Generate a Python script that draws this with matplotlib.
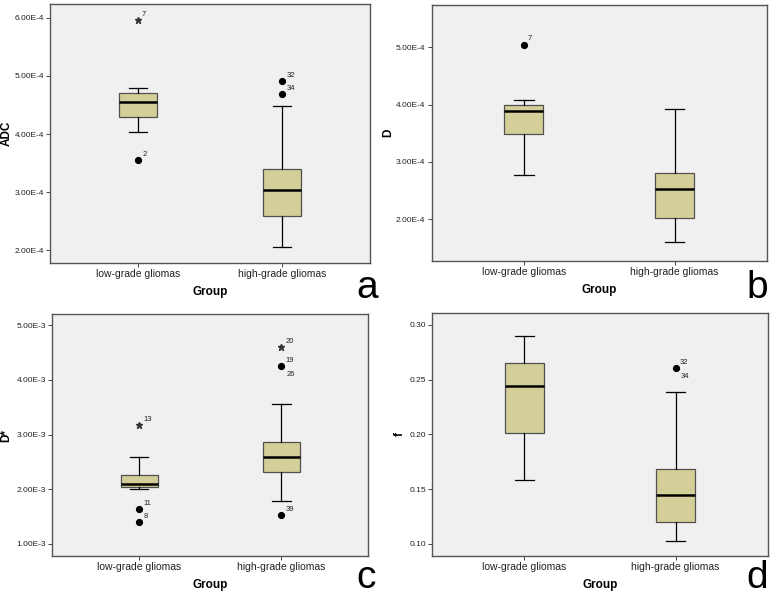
import numpy as np
import matplotlib
matplotlib.use('Agg')
import matplotlib.pyplot as plt

plt.rcParams['font.family'] = ['Liberation Sans', 'DejaVu Sans']

groups = ['low-grade gliomas', 'high-grade gliomas']
box_col = '#d4cf98'

# five-number summaries: [low-grade, high-grade]
adc_lo = [4.03e-4, 2.05e-4]
adc_q1 = [4.30e-4, 2.59e-4]
adc_med = [4.55e-4, 3.03e-4]
adc_q3 = [4.70e-4, 3.39e-4]
adc_hi = [4.80e-4, 4.48e-4]
adc_out = [[(3.55e-4, '2', 'o'), (5.97e-4, '7', '*')],
           [(4.92e-4, '32', 'o'), (4.69e-4, '34', 'o')]]

d_lo = [2.78e-4, 1.60e-4]
d_q1 = [3.49e-4, 2.02e-4]
d_med = [3.895e-4, 2.53e-4]
d_q3 = [4.00e-4, 2.80e-4]
d_hi = [4.09e-4, 3.93e-4]
d_out = [[(5.05e-4, '7', 'o')], []]

ds_lo = [2.01e-3, 1.79e-3]
ds_q1 = [2.04e-3, 2.32e-3]
ds_med = [2.10e-3, 2.59e-3]
ds_q3 = [2.26e-3, 2.86e-3]
ds_hi = [2.59e-3, 3.56e-3]
ds_out = [[(3.18e-3, '13', '*'), (1.63e-3, '11', 'o'), (1.40e-3, '8', 'o')],
          [(4.61e-3, '20', '*'), (4.25e-3, '19', 'o'), (4.25e-3, '26', 'o'),
           (1.52e-3, '39', 'o')]]

f_lo = [0.158, 0.1025]
f_q1 = [0.2015, 0.120]
f_med = [0.2445, 0.145]
f_q3 = [0.265, 0.168]
f_hi = [0.290, 0.2387]
f_out = [[], [(0.2606, '32', 'o'), (0.2606, '34', 'o')]]

panels = [
    dict(name='ADC', lo=adc_lo, q1=adc_q1, med=adc_med, q3=adc_q3, hi=adc_hi, out=adc_out,
         ticks=[2e-4, 3e-4, 4e-4, 5e-4, 6e-4], fmt='{:.2E}', ylim=(1.78e-4, 6.24e-4),
         pos=[0.0645, 0.558, 0.4129, 0.4353], letter='a', lab_x=-0.118, let_xy=(378, 298)),
    dict(name='D', lo=d_lo, q1=d_q1, med=d_med, q3=d_q3, hi=d_hi, out=d_out,
         ticks=[2e-4, 3e-4, 4e-4, 5e-4], fmt='{:.2E}', ylim=(1.27e-4, 5.74e-4),
         pos=[0.557, 0.5613, 0.4323, 0.4303], letter='b', lab_x=-0.112, let_xy=(768, 298)),
    dict(name='D*', lo=ds_lo, q1=ds_q1, med=ds_med, q3=ds_q3, hi=ds_hi, out=ds_out,
         ticks=[1e-3, 2e-3, 3e-3, 4e-3, 5e-3], fmt='{:.2E}', ylim=(0.775e-3, 5.207e-3),
         pos=[0.0675, 0.0655, 0.4077, 0.4067], letter='c', lab_x=-0.128, let_xy=(376, 588)),
    dict(name='f', lo=f_lo, q1=f_q1, med=f_med, q3=f_q3, hi=f_hi, out=f_out,
         ticks=[0.10, 0.15, 0.20, 0.25, 0.30], fmt='{:.2f}', ylim=(0.0888, 0.3112),
         pos=[0.5578, 0.0655, 0.4328, 0.4089], letter='d', lab_x=-0.08, let_xy=(768, 588)),
]


def sci(v, fmt):
    s = fmt.format(v)
    if 'E' in s:
        m, e = s.split('E')
        s = m + 'E' + str(int(e))
    return s


fig = plt.figure(figsize=(7.75, 5.95), dpi=100)

for p in panels:
    ax = fig.add_axes(p['pos'])
    ax.set_facecolor('#f0f0f0')
    stats = []
    for i in range(2):
        stats.append(dict(whislo=p['lo'][i], q1=p['q1'][i], med=p['med'][i],
                          q3=p['q3'][i], whishi=p['hi'][i], fliers=[]))
    ax.bxp(stats, positions=[1, 2], widths=0.26, capwidths=0.13, patch_artist=True,
           showfliers=False,
           boxprops=dict(facecolor=box_col, edgecolor='#505050', linewidth=0.9),
           medianprops=dict(color='black', linewidth=1.8),
           whiskerprops=dict(color='black', linewidth=0.9),
           capprops=dict(color='black', linewidth=0.9))
    for i in range(2):
        seen = {}
        for val, lab, mk in p['out'][i]:
            key = round(val, 8)
            if key in seen:
                # second label of a shared point goes below-right
                ax.annotate(lab, (i + 1, val), xytext=(4, -6), textcoords='offset points',
                            fontsize=5.5, color='#222222', va='center')
                continue
            seen[key] = 1
            if mk == '*':
                ax.plot(i + 1, val, marker='*', color='#333333', markersize=5,
                        linestyle='none')
            else:
                ax.plot(i + 1, val, marker='o', color='black', markersize=4.2,
                        linestyle='none')
            ax.annotate(lab, (i + 1, val), xytext=(3, 4), textcoords='offset points',
                        fontsize=5.5, color='#222222', va='center')
    ax.set_xlim(0.39, 2.61)
    ax.set_ylim(*p['ylim'])
    ax.set_xticks([1, 2])
    ax.set_xticklabels(groups, fontsize=7.5, color='#222222')
    ax.set_yticks(p['ticks'])
    ax.set_yticklabels([sci(t, p['fmt']) for t in p['ticks']], fontsize=6, color='#222222')
    ax.tick_params(direction='out', length=3, width=0.7, color='#444444', pad=1.5)
    for s in ax.spines.values():
        s.set_color('#555555')
        s.set_linewidth(1.0)
    ax.set_xlabel('Group', fontsize=8.5, fontweight='bold', labelpad=5)
    ax.set_ylabel(p['name'], fontsize=8.5, fontweight='bold')
    ax.yaxis.set_label_coords(p['lab_x'], 0.5)
    lx, ly = p['let_xy']
    fig.text(lx / 775, 1 - ly / 595, p['letter'], fontsize=28, ha='right', va='baseline')

fig.savefig('out.png', dpi=100, facecolor='white')
